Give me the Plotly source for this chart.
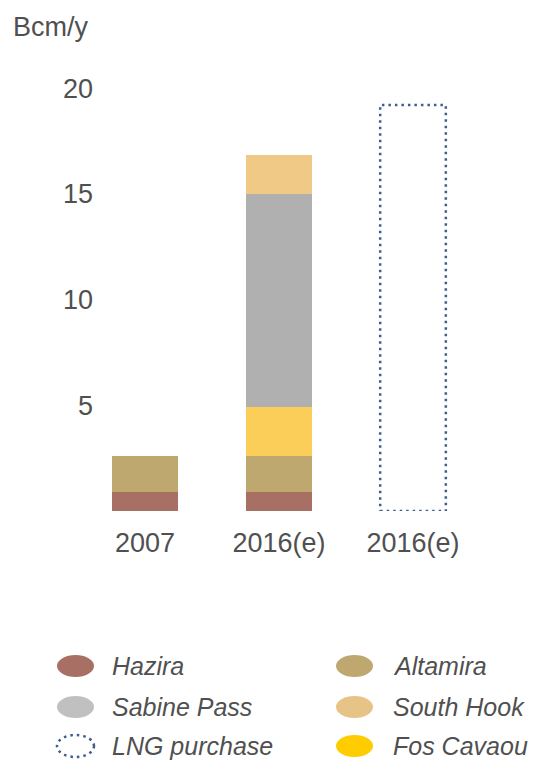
import plotly.graph_objects as go

# ---- data ----
categories = ["2007", "2016(e)", "2016(e)"]
hazira = [0.9, 0.9, 0]
altamira = [1.7, 1.7, 0]
fos_cavaou = [0, 2.3, 0]
sabine_pass = [0, 10.1, 0]
south_hook = [0, 1.85, 0]
lng_purchase = [0, 0, 19.2]
y_ticks = [5, 10, 15, 20]
unit_label = "Bcm/y"

legend_names = ["Hazira", "Altamira", "Sabine Pass", "South Hook", "LNG purchase", "Fos Cavaou"]
legend_colors = ["#A87065", "#BFA870", "#C0C0C0", "#E8C387", None, "#FFCC00"]

bar_colors = {
    "Hazira": "#A87065",
    "Altamira": "#BFA870",
    "Fos Cavaou": "#FBCE5A",
    "Sabine Pass": "#B0B0B0",
    "South Hook": "#F0C987",
}
dot_color = "#3D5F8F"
text_color = "#505050"
FONT = "Arial, Liberation Sans, sans-serif"

W, H = 535, 761
ML, MR, MT, MB = 100, 55, 67, 250
BAR_W = 0.49
xpos = list(range(len(categories)))

fig = go.Figure()
for name, vals in [("Hazira", hazira), ("Altamira", altamira), ("Fos Cavaou", fos_cavaou),
                   ("Sabine Pass", sabine_pass), ("South Hook", south_hook)]:
    fig.add_trace(go.Bar(x=xpos, y=vals, name=name, width=BAR_W,
                         marker=dict(color=bar_colors[name], line=dict(width=0)),
                         showlegend=False))
# invisible bar for LNG purchase (outline drawn as dotted shape)
fig.add_trace(go.Bar(x=xpos, y=lng_purchase, name="LNG purchase", width=BAR_W,
                     marker=dict(color="rgba(0,0,0,0)", line=dict(width=0)), showlegend=False))

shapes = []
for xi, v in zip(xpos, lng_purchase):
    if v > 0:
        shapes.append(dict(type="rect", xref="x", yref="y", x0=xi - BAR_W / 2, x1=xi + BAR_W / 2,
                           y0=0, y1=v, line=dict(color=dot_color, width=2.5, dash="2.5px,4px"),
                           fillcolor="rgba(0,0,0,0)"))

# manual legend (ellipses + italic labels), positioned in pixels
pw = W - ML - MR
ph = H - MT - MB
def px_x(p):
    return (p - ML) / pw
def px_y(p):
    return (H - MB - p) / ph

col_x = [57, 336]
text_x = [110, 391]
row_y = [666, 707, 746]
annotations = []
for i, (nm, col) in enumerate(zip(legend_names, legend_colors)):
    c, r = i % 2, i // 2
    x0, x1 = col_x[c], col_x[c] + 37
    y0, y1 = row_y[r] - 11, row_y[r] + 11
    if col is None:
        shapes.append(dict(type="circle", xref="paper", yref="paper",
                           x0=px_x(x0), x1=px_x(x1), y0=px_y(y1), y1=px_y(y0),
                           line=dict(color=dot_color, width=2.5, dash="2.5px,4px"),
                           fillcolor="rgba(0,0,0,0)"))
    else:
        shapes.append(dict(type="circle", xref="paper", yref="paper",
                           x0=px_x(x0), x1=px_x(x1), y0=px_y(y1), y1=px_y(y0),
                           line=dict(width=0), fillcolor=col))
    annotations.append(dict(x=px_x(text_x[c]), y=px_y(row_y[r]), xref="paper", yref="paper",
                            xanchor="left", yanchor="middle", showarrow=False, text=nm,
                            font=dict(family=FONT, size=25, color=text_color, style="italic")))

annotations.append(dict(x=px_x(11), y=px_y(27), xref="paper", yref="paper", xanchor="left",
                        yanchor="middle", showarrow=False, text=unit_label,
                        font=dict(family=FONT, size=27, color=text_color)))

fig.update_layout(
    width=W, height=H, barmode="stack",
    margin=dict(l=ML, r=MR, t=MT, b=MB, pad=0),
    paper_bgcolor="white", plot_bgcolor="white",
    font=dict(family=FONT, size=27, color=text_color),
    shapes=shapes, annotations=annotations, showlegend=False,
    xaxis=dict(tickvals=xpos, ticktext=categories, range=[-0.336, 2.5], showgrid=False,
               zeroline=False, showline=False, ticks="", ticklabelstandoff=13,
               tickfont=dict(size=27, color=text_color)),
    yaxis=dict(tickvals=y_ticks, range=[0, 21], showgrid=False, zeroline=False, showline=False,
               ticks="", ticklabelstandoff=6, tickfont=dict(size=27, color=text_color)),
)
fig.write_html("out.html", config={"displayModeBar": False})

# remove default page margin so the figure sits at the window's top-left corner
with open("out.html", "r", encoding="utf-8") as f:
    html = f.read()
html = html.replace("<head>", "<head><style>html,body{margin:0;padding:0;overflow:hidden;}</style>", 1)
with open("out.html", "w", encoding="utf-8") as f:
    f.write(html)
